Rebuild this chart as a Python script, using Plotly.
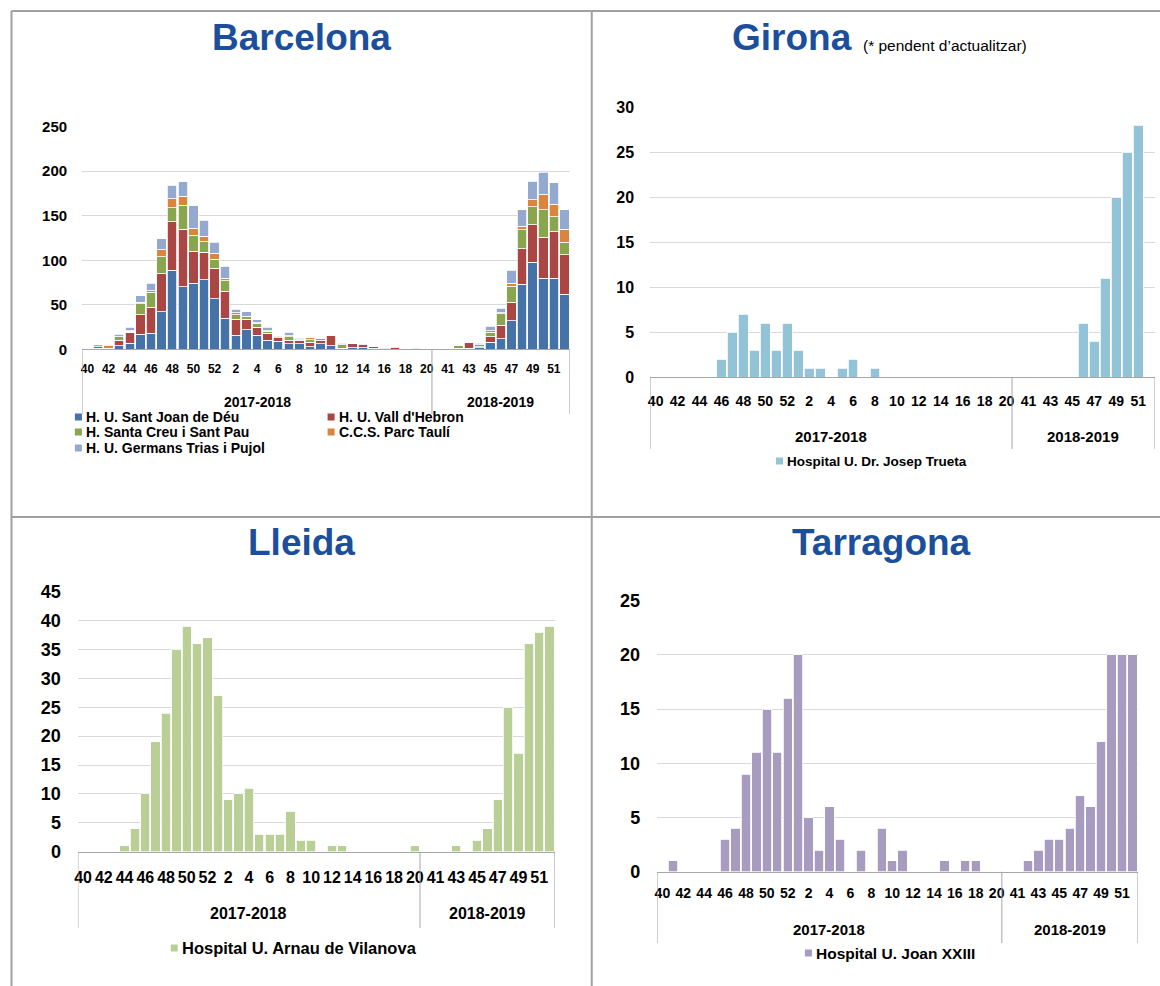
import plotly.graph_objects as go

W, H = 1160, 986

# ---------------- data ----------------
seasons = ["2017-2018", "2018-2019"]
weeks_1718 = [str(w) for w in list(range(40, 53)) + list(range(1, 21))]
weeks_1819 = [str(w) for w in range(40, 53)]

# Barcelona (stacked by hospital)
bcn_names = ["H. U. Sant Joan de Déu", "H. U. Vall d'Hebron", "H. Santa Creu i Sant Pau",
             "C.C.S. Parc Taulí", "H. U. Germans Trias i Pujol"]
bcn_colors = ["#4572A7", "#AA4643", "#89A54E", "#DB843D", "#93A9CF"]
bcn_sjd_1718 = [0, 1, 1, 4, 7, 17, 18, 42, 89, 70, 74, 78, 57, 35, 16, 22, 16, 10, 9, 6, 6, 3, 6, 4, 1, 2, 2, 1, 0, 0, 0, 0, 0]
bcn_vh_1718 = [0, 2, 0, 6, 12, 22, 29, 43, 54, 65, 36, 31, 34, 30, 18, 12, 9, 8, 4, 4, 4, 5, 4, 11, 0, 4, 3, 2, 0, 2, 1, 0, 0]
bcn_sp_1718 = [0, 0, 0, 4, 1, 12, 17, 19, 16, 27, 18, 12, 10, 12, 5, 3, 4, 2, 1, 4, 1, 3, 2, 0, 4, 1, 0, 0, 0, 1, 0, 0, 0]
bcn_pt_1718 = [0, 0, 3, 0, 1, 2, 2, 8, 10, 10, 8, 6, 7, 3, 2, 0, 1, 1, 1, 1, 1, 2, 0, 0, 0, 1, 0, 0, 0, 0, 1, 0, 0]
bcn_gtp_1718 = [0, 2, 1, 3, 4, 7, 8, 12, 15, 16, 25, 18, 12, 13, 4, 5, 3, 4, 0, 4, 1, 0, 0, 1, 2, 0, 1, 0, 1, 0, 0, 1, 0]
bcn_sjd_1819 = [0, 0, 1, 1, 2, 8, 12, 32, 73, 98, 80, 80, 62]
bcn_vh_1819 = [0, 1, 0, 7, 1, 6, 15, 21, 40, 42, 46, 52, 44]
bcn_sp_1819 = [0, 0, 3, 0, 2, 5, 13, 18, 21, 20, 31, 17, 14]
bcn_pt_1819 = [0, 0, 0, 0, 0, 2, 1, 3, 4, 8, 17, 14, 15]
bcn_gtp_1819 = [0, 0, 0, 0, 2, 5, 5, 15, 19, 21, 25, 24, 22]

# Girona
gir_name = "Hospital U. Dr. Josep Trueta"
gir_1718 = [0, 0, 0, 0, 0, 0, 2, 5, 7, 3, 6, 3, 6, 3, 1, 1, 0, 1, 2, 0, 1, 0, 0, 0, 0, 0, 0, 0, 0, 0, 0, 0, 0]
gir_1819 = [0, 0, 0, 0, 0, 0, 6, 4, 11, 20, 25, 28, 0]

# Lleida
lle_name = "Hospital U. Arnau de Vilanova"
lle_1718 = [0, 0, 0, 0, 1, 4, 10, 19, 24, 35, 39, 36, 37, 27, 9, 10, 11, 3, 3, 3, 7, 2, 2, 0, 1, 1, 0, 0, 0, 0, 0, 0, 1]
lle_1819 = [0, 0, 0, 1, 0, 2, 4, 9, 25, 17, 36, 38, 39]

# Tarragona
tar_name = "Hospital U. Joan XXIII"
tar_1718 = [0, 1, 0, 0, 0, 0, 3, 4, 9, 11, 15, 11, 16, 20, 5, 2, 6, 3, 0, 2, 0, 4, 1, 2, 0, 0, 0, 1, 0, 1, 1, 0, 0]
tar_1819 = [0, 0, 1, 2, 3, 3, 4, 7, 6, 12, 20, 20, 20]

# ---------------- helpers ----------------
FONT = "Liberation Sans, Arial, sans-serif"
TITLE_COLOR = "#1B4F9C"
GRID = "#D9D9D9"
AXLINE = "#A6A6A6"
BORDER = "#A0A0A0"

n1, n2 = len(weeks_1718), len(weeks_1819)
x_cats = [f"{seasons[0]} w{w}" for w in weeks_1718] + [f"{seasons[1]} w{w}" for w in weeks_1819]
week_labels = weeks_1718 + weeks_1819

# page-pixel -> paper mapping (calibrated to the captured picture)
X0, XSPAN = 2.5, 1157.5
Y0, YSPAN = 9.0, 966.0


def px(v):
    return (v - X0) / XSPAN


def py(v):
    return 1 - (v - Y0) / YSPAN


fig = go.Figure()
shapes = []
annotations = []

panels = [
    dict(k="", left=80.7, right=569, bottom=348.3, top=125.7, ymax=250, dtick=50,
         ytf=15, ystand=14, wtf=12, wstand=8, stf=14, sy=401, sep_bot=413),
    dict(k="2", left=649.5, right=1154.6, bottom=376, top=106, ymax=30, dtick=5,
         ytf=16, ystand=15, wtf=14, wstand=11, stf=15, sy=435, sep_bot=448),
    dict(k="3", left=76.5, right=554, bottom=850.7, top=590.7, ymax=45, dtick=5,
         ytf=18, ystand=16, wtf=16, wstand=11, stf=16, sy=912, sep_bot=927),
    dict(k="4", left=656.5, right=1137.6, bottom=870.7, top=599.7, ymax=25, dtick=5,
         ytf=18, ystand=16, wtf=14, wstand=8, stf=15, sy=928, sep_bot=942),
]

series_by_panel = [
    [(bcn_names[i], bcn_colors[i], a + b) for i, (a, b) in enumerate([
        (bcn_sjd_1718, bcn_sjd_1819), (bcn_vh_1718, bcn_vh_1819), (bcn_sp_1718, bcn_sp_1819),
        (bcn_pt_1718, bcn_pt_1819), (bcn_gtp_1718, bcn_gtp_1819)])],
    [(gir_name, "#93C3D6", gir_1718 + gir_1819)],
    [(lle_name, "#B9CF96", lle_1718 + lle_1819)],
    [(tar_name, "#A89BC0", tar_1718 + tar_1819)],
]

layout_axes = {}
for p, series in zip(panels, series_by_panel):
    k = p["k"]
    for name, color, vals in series:
        fig.add_trace(go.Bar(x=x_cats, y=vals, name=name, marker_color=color,
                             marker_line_color="white", marker_line_width=0.8,
                             xaxis="x" + k, yaxis="y" + k, showlegend=False))
    layout_axes["xaxis" + k] = dict(
        domain=[px(p["left"]), px(p["right"])], anchor="y" + k,
        type="category", range=[-0.5, n1 + n2 - 0.5],
        tickmode="array", tickvals=x_cats[::2], ticktext=week_labels[::2],
        tickangle=0, ticks="", showgrid=False, zeroline=False,
        showline=True, linecolor=AXLINE, linewidth=1,
        tickfont=dict(family=FONT, size=p["wtf"], color="#000", weight="bold"),
        ticklabelstandoff=p["wstand"], fixedrange=True,
    )
    layout_axes["yaxis" + k] = dict(
        domain=[py(p["bottom"]), py(p["top"])], anchor="x" + k,
        range=[0, p["ymax"]], tickmode="linear", tick0=0, dtick=p["dtick"],
        showgrid=True, gridcolor=GRID, gridwidth=1, zeroline=False, showline=False,
        ticks="", ticklabelstandoff=p["ystand"],
        tickfont=dict(family=FONT, size=p["ytf"], color="#000", weight="bold"),
        fixedrange=True,
    )
    xref = "x" + k
    # season separators of the two-level category axis
    for xv in [-0.5, n1 - 0.5, n1 + n2 - 0.5]:
        shapes.append(dict(type="line", xref=xref, yref="paper", x0=xv, x1=xv,
                           y0=py(p["bottom"]), y1=py(p["sep_bot"]),
                           line=dict(color=AXLINE, width=1)))
    for s, xc in zip(seasons, [(n1 - 1) / 2, n1 + (n2 - 1) / 2]):
        annotations.append(dict(x=xc, xref=xref, y=py(p["sy"]), yref="paper", text=f"<b>{s}</b>",
                                showarrow=False, xanchor="center", yanchor="middle",
                                font=dict(family=FONT, size=p["stf"], color="#000")))

fig.update_layout(**layout_axes)

# ---------------- titles ----------------
def title(text, xc, yc, size=37, anchor="center", color=TITLE_COLOR, bold=True):
    annotations.append(dict(x=px(xc), y=py(yc), xref="paper", yref="paper",
                            text=f"<b>{text}</b>" if bold else text, showarrow=False,
                            xanchor=anchor, yanchor="middle",
                            font=dict(family=FONT, size=size, color=color)))

title("Barcelona", 300, 36)
title("Girona", 792, 36)
title("(* pendent d’actualitzar)", 861, 44, size=15.5, anchor="left", color="#000", bold=False)
title("Lleida", 300, 541)
title("Tarragona", 881, 541)

# ---------------- legends ----------------
def legend_item(text, color, mx, my, size, msz=7):
    shapes.append(dict(type="rect", xref="paper", yref="paper",
                       x0=px(mx - msz / 2), x1=px(mx + msz / 2),
                       y0=py(my + msz / 2), y1=py(my - msz / 2),
                       fillcolor=color, line=dict(width=0)))
    annotations.append(dict(x=px(mx + msz / 2 + 2), y=py(my), xref="paper", yref="paper",
                            text=f"<b>{text}</b>", showarrow=False, xanchor="left",
                            yanchor="middle", font=dict(family=FONT, size=size, color="#000")))

bcn_leg_pos = [(77, 416), (330, 416), (77, 431), (330, 431), (77, 447)]
for (name, color), (mx, my) in zip(zip(bcn_names, bcn_colors), bcn_leg_pos):
    legend_item(name, color, mx, my, 14)
legend_item(gir_name, "#93C3D6", 779, 460, 13.5)
legend_item(lle_name, "#B9CF96", 173, 947, 16.5)
legend_item(tar_name, "#A89BC0", 808, 952, 15.5)

# ---------------- panel borders ----------------
for (x0, y0, x1, y1) in [(10, 10, 1160, 10), (10, 10, 10, 986), (591, 10, 591, 986), (10, 516, 1160, 516)]:
    shapes.append(dict(type="line", xref="paper", yref="paper",
                       x0=px(x0), x1=px(x1), y0=py(y0), y1=py(y1),
                       line=dict(color=BORDER, width=2)))

fig.update_layout(
    width=W, height=H, margin=dict(l=0, r=0, t=0, b=0),
    paper_bgcolor="white", plot_bgcolor="white",
    barmode="stack", bargap=0.1, showlegend=False,
    shapes=shapes, annotations=annotations,
    font=dict(family=FONT),
)

fig.write_html(
    "out.html",
    config={"displayModeBar": False},
    post_script=("var gd=document.getElementById('{plot_id}');"
                 "gd.style.position='fixed';gd.style.top='0px';gd.style.left='0px';"
                 "document.documentElement.style.margin='0';"
                 "document.body.style.margin='0';"
                 "document.body.style.overflow='hidden';"
                 "document.documentElement.style.overflow='hidden';"),
)
